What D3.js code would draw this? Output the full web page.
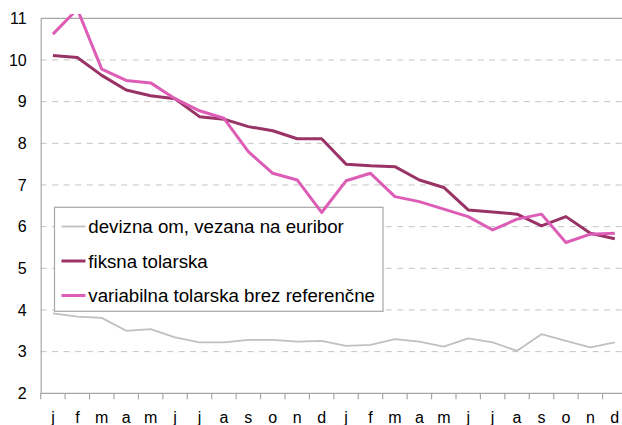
<!DOCTYPE html>
<html>
<head>
<meta charset="utf-8">
<script src="https://cdn.jsdelivr.net/npm/d3@7/dist/d3.min.js"></script>
<style>
  html, body { margin: 0; padding: 0; background: #fff; }
  svg { display: block; font-family: "Liberation Sans", Arial, sans-serif; }
</style>
</head>
<body>
<svg id="chart" width="622" height="425"></svg>
<script>
// Month labels over two years
const months = ["j","f","m","a","m","j","j","a","s","o","n","d",
                "j","f","m","a","m","j","j","a","s","o","n","d"];
const yTicks = [2, 3, 4, 5, 6, 7, 8, 9, 10, 11];

const seriesNames = ["devizna om, vezana na euribor", "fiksna tolarska", "variabilna tolarska brez referenčne"];
const devizna = [3.92, 3.84, 3.81, 3.50, 3.54, 3.34, 3.22, 3.22, 3.28, 3.28, 3.24, 3.26,
                 3.14, 3.16, 3.30, 3.24, 3.12, 3.32, 3.22, 3.02, 3.42, 3.26, 3.10, 3.22];
const fiksna = [10.11, 10.06, 9.63, 9.28, 9.14, 9.07, 8.64, 8.58, 8.40, 8.30, 8.11, 8.11,
                7.50, 7.46, 7.44, 7.12, 6.94, 6.40, 6.35, 6.30, 6.02, 6.24, 5.84, 5.71];
const variabilna = [10.62, 11.22, 9.78, 9.51, 9.45, 9.07, 8.78, 8.60, 7.80, 7.28, 7.12, 6.34,
                    7.10, 7.28, 6.72, 6.60, 6.42, 6.24, 5.92, 6.18, 6.30, 5.62, 5.82, 5.84];

const svg = d3.select("#chart");
const plotLeft = 40.7, plotRight = 627, plotTop = 18.3, plotBottom = 393.3;

const x = d3.scaleBand().domain(d3.range(months.length)).range([plotLeft, plotRight]).padding(0);
const y = d3.scaleLinear().domain([2, 11]).range([plotBottom, plotTop]);
const cx = i => x(i) + x.bandwidth() / 2;

// dashed horizontal gridlines
svg.append("g").selectAll("line")
  .data(yTicks.filter(v => v > 2 && v < 11))
  .join("line")
  .attr("x1", plotLeft).attr("x2", plotRight)
  .attr("y1", d => y(d)).attr("y2", d => y(d))
  .attr("stroke", "#c4c4c4").attr("stroke-width", 1)
  .attr("stroke-dasharray", "6,5.5");

// plot frame: top border
svg.append("line")
  .attr("x1", plotLeft).attr("x2", plotRight).attr("y1", y(11)).attr("y2", y(11))
  .attr("stroke", "#a6a6a6").attr("stroke-width", 1.2);

// y axis
const yAxis = d3.axisLeft(y).tickValues(yTicks).tickSize(0).tickPadding(14);
const gy = svg.append("g").attr("transform", `translate(${plotLeft},0)`).call(yAxis);
gy.select(".domain").attr("stroke", "#a6a6a6").attr("stroke-width", 1.2);
gy.selectAll("text").attr("font-size", 16).attr("fill", "#000")
  .attr("font-family", "Liberation Sans, Arial, sans-serif");

// x axis: labels centred in bands, ticks on band boundaries
const xAxis = d3.axisBottom(x).tickFormat(i => months[i]).tickSize(0).tickPadding(18);
const gx = svg.append("g").attr("transform", `translate(0,${plotBottom})`).call(xAxis);
gx.select(".domain").remove();
gx.selectAll("text").attr("font-size", 16).attr("fill", "#000")
  .attr("font-family", "Liberation Sans, Arial, sans-serif");
svg.append("line")
  .attr("x1", plotLeft).attr("x2", plotRight).attr("y1", plotBottom).attr("y2", plotBottom)
  .attr("stroke", "#a6a6a6").attr("stroke-width", 1.2);
svg.append("g").selectAll("line")
  .data(d3.range(months.length + 1))
  .join("line")
  .attr("x1", i => plotLeft + i * x.step()).attr("x2", i => plotLeft + i * x.step())
  .attr("y1", plotBottom).attr("y2", plotBottom + 6)
  .attr("stroke", "#a6a6a6").attr("stroke-width", 1.2);

// legend box
const legend = svg.append("g");
legend.append("rect")
  .attr("x", 54.5).attr("y", 207.3).attr("width", 328.5).attr("height", 104)
  .attr("fill", "#fff").attr("stroke", "#a6a6a6").attr("stroke-width", 1.2);

const colors = ["#c0c0c0", "#993366", "#dd5cb5"];
const widths = [1.8, 3, 3];

seriesNames.forEach((name, k) => {
  const ly = 226.5 + k * 34.5;
  legend.append("line")
    .attr("x1", 61.5).attr("x2", 85.5).attr("y1", ly).attr("y2", ly)
    .attr("stroke", colors[k]).attr("stroke-width", widths[k]);
  legend.append("text")
    .attr("x", 88.3).attr("y", ly).attr("dy", "0.36em")
    .attr("font-size", 18.7).attr("fill", "#000")
    .text(name);
});

// data lines, clipped to the plot region
svg.append("clipPath").attr("id", "plotclip")
  .append("rect").attr("x", plotLeft).attr("y", 14).attr("width", plotRight - plotLeft).attr("height", plotBottom - 14);

const line = d3.line().x((d, i) => cx(i)).y(d => y(d));
const lines = svg.append("g").attr("clip-path", "url(#plotclip)");
[devizna, fiksna, variabilna].forEach((vals, k) => {
  lines.append("path")
    .datum(vals)
    .attr("d", line)
    .attr("fill", "none")
    .attr("stroke", colors[k])
    .attr("stroke-width", widths[k])
    .attr("stroke-linejoin", "round");
});
</script>
</body>
</html>
